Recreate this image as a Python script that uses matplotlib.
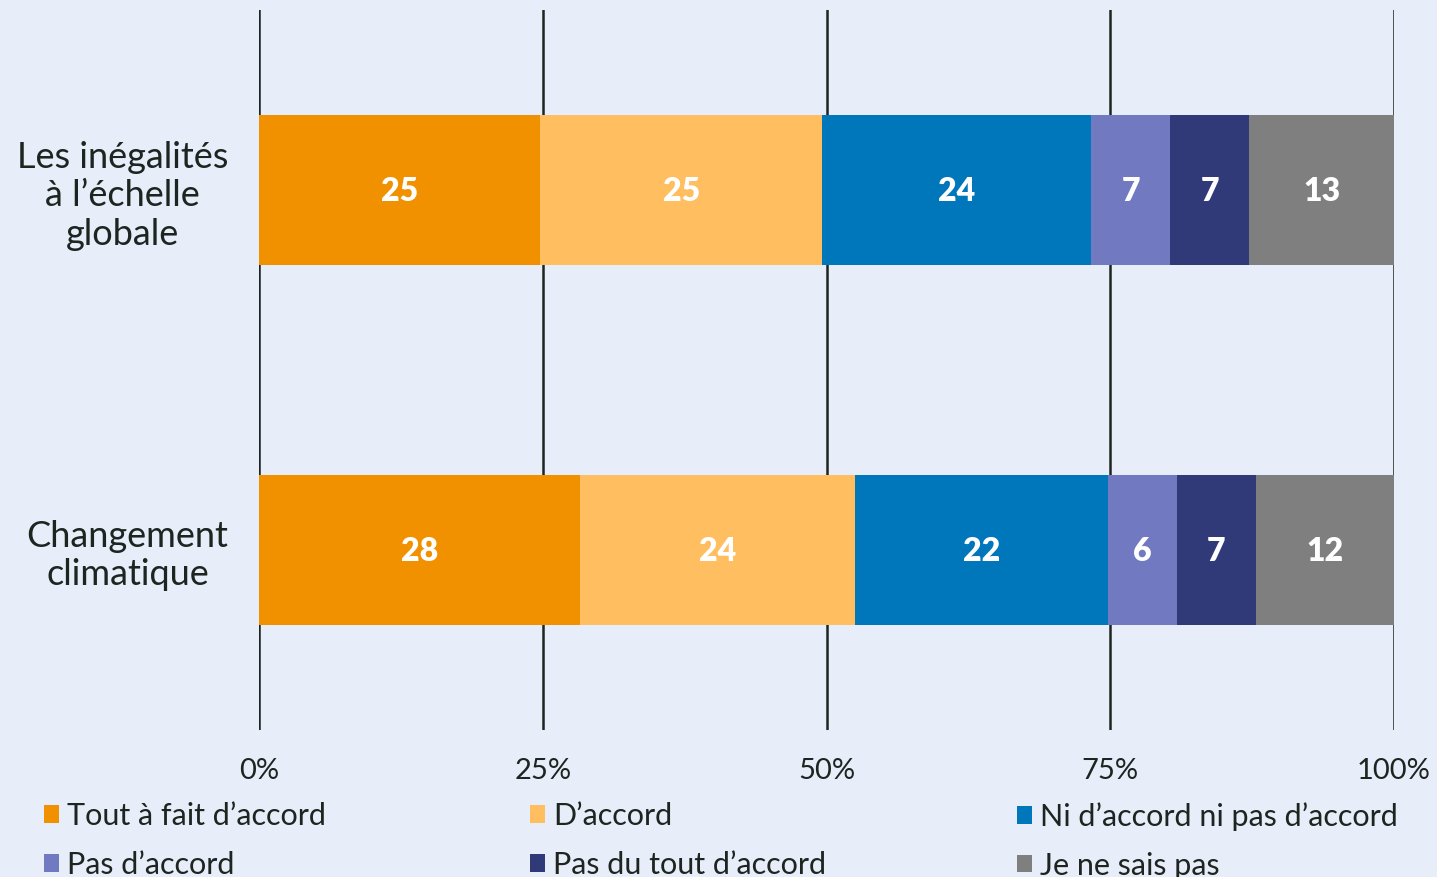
import matplotlib
matplotlib.use("Agg")
import matplotlib.pyplot as plt
import numpy as np

categories = ["Les inégalités\nà l\u2019échelle\nglobale", "Changement\nclimatique"]
series = ["Tout à fait d\u2019accord", "D\u2019accord", "Ni d\u2019accord ni pas d\u2019accord",
          "Pas d\u2019accord", "Pas du tout d\u2019accord", "Je ne sais pas"]
values_inegalites = [24.8, 24.8, 23.7, 7.0, 6.9, 12.9]
values_climat = [28.3, 24.2, 22.3, 6.1, 6.9, 12.2]
colors = ["#F29100", "#FFBE5F", "#0077BA", "#717AC1", "#313A78", "#7F7F7F"]
xticks = [0, 25, 50, 75, 100]
xtick_labels = ["0%", "25%", "50%", "75%", "100%"]

plt.rcParams['font.family'] = ['Lato', 'DejaVu Sans']
bg = "#E8EEF9"
txt = "#1e2420"
fig = plt.figure(figsize=(14.37, 8.77), dpi=100, facecolor=bg)
ax = fig.add_axes([259/1437, 147/877, 1135/1437, 720/877], facecolor=bg)

data = np.array([values_inegalites, values_climat])
ypos = [1, 0]
left = np.zeros(len(categories))
handles = []
for j, s in enumerate(series):
    vals = data[:, j]
    bars = ax.barh(ypos, vals, left=left, height=150/360, color=colors[j], label=s, zorder=3)
    handles.append(bars)
    for k in range(len(categories)):
        ax.text(left[k] + vals[k] / 2, ypos[k] - 0.005, f"{vals[k]:.0f}", ha="center", va="center",
                color="white", fontsize=23, fontweight="heavy", zorder=4)
    left = left + vals

ax.set_xlim(0, 100)
ax.set_ylim(-0.5, 1.5)
ax.set_xticks(xticks)
ax.set_xticklabels(xtick_labels, fontsize=21, color=txt)
ax.set_yticks(ypos)
ax.set_yticklabels(categories, fontsize=26, color=txt, multialignment="center", linespacing=1.2)
ax.tick_params(axis="both", length=0)
ax.tick_params(axis="x", pad=20)
ax.tick_params(axis="y", pad=22)
for sp in ax.spines.values():
    sp.set_visible(False)
for x in xticks:
    ax.axvline(x, color=txt, lw=1.8, zorder=2)

col_x = [44/1437, 530/1437, 1017/1437]
for c in range(3):
    hs = [handles[c], handles[c + 3]]
    ls = [series[c], series[c + 3]]
    fig.legend(hs, ls, loc="upper left", bbox_to_anchor=(col_x[c], 75/877), frameon=False,
               fontsize=22, handlelength=0.5, handleheight=0.5, handletextpad=0.25,
               labelspacing=0.68, borderaxespad=0, borderpad=0, labelcolor=txt)

fig.savefig("out.png", dpi=100, facecolor=bg)
